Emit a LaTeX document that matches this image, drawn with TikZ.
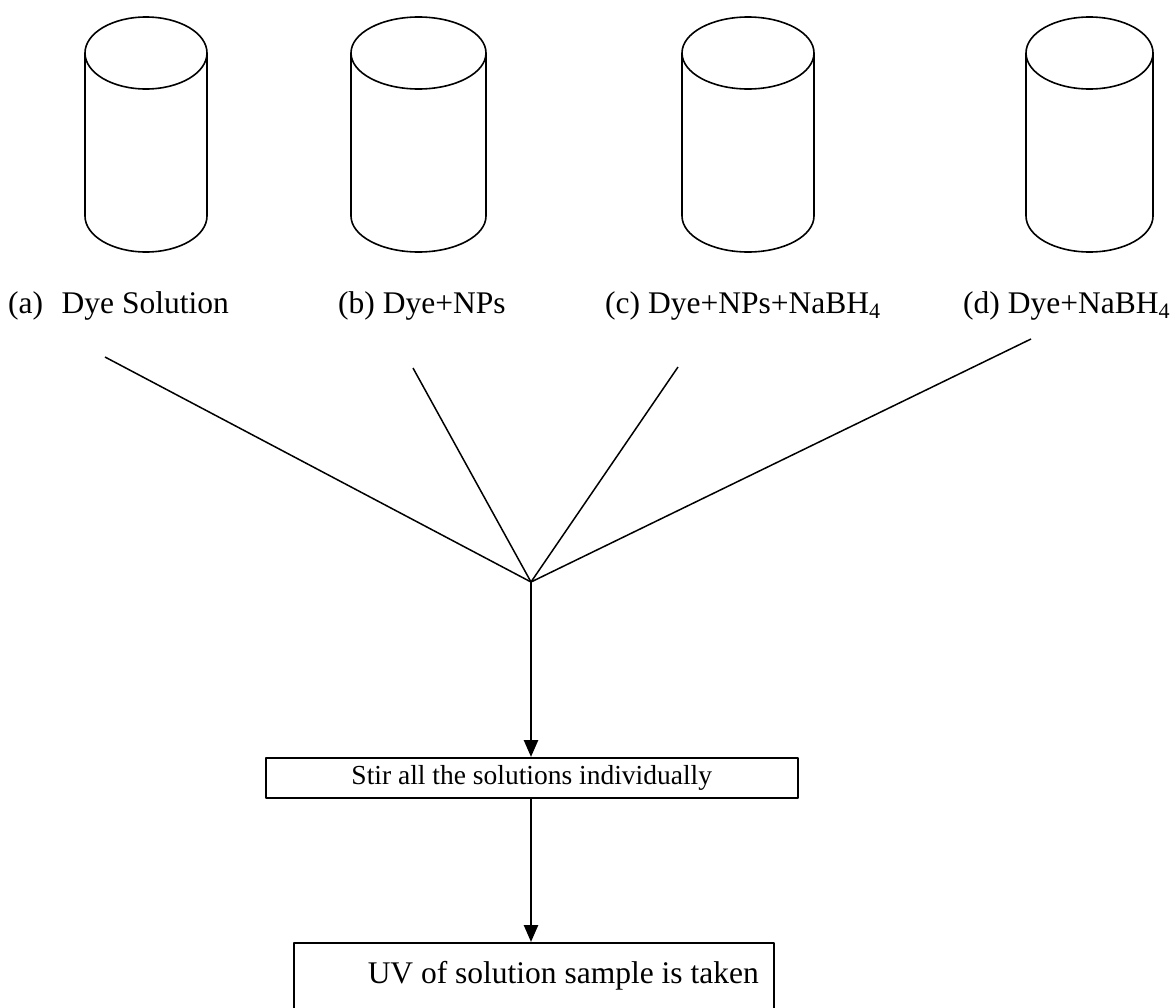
\documentclass[tikz,border=0pt]{standalone}
\usepackage{fontspec}
\setmainfont{Liberation Serif}
\usetikzlibrary{arrows.meta}
\newcommand\mycyl[5]{% name, cx, rx, top y, bottom y
  \draw[cyl] (#2,#4) ellipse [x radius=#3, y radius=36];
  \draw[cyl] (#2-#3,#4) -- (#2-#3,#5) arc[start angle=180,end angle=0,x radius=#3,y radius=36] -- (#2+#3,#4);
  \coordinate (#1) at (#2,#5);
}
\begin{document}
\begin{tikzpicture}[x=1pt,y=-1pt,line join=round,
  cyl/.style={line width=1.6pt},
  lbl/.style={anchor=base west,inner sep=0pt,font=\fontsize{31.5}{36}\selectfont},
  lnk/.style={line width=1.5pt},
  arr/.style={line width=2.6pt,-{Triangle[length=17pt,width=14pt]}},
  procbox/.style={draw,line width=1.5pt,rectangle,inner sep=0pt,anchor=north west,font=\fontsize{31.5}{36}\selectfont}]
\useasboundingbox (0,0) rectangle (1175,1007);
\clip (0,0) rectangle (1175,1007);
\fill[white] (0,0) rectangle (1175,1007);

\mycyl{cA}{146}{61}{53}{216}
\mycyl{cB}{418.5}{67.5}{53}{216}
\mycyl{cC}{748}{66}{53}{216}
\mycyl{cD}{1089.5}{63.5}{53}{216}

\node[lbl] (ta) at (8,313) {(a)\hspace{18.5pt}Dye Solution};
\node[lbl] (tb) at (338,313) {(b) Dye+NPs};
\node[lbl] (tc) at (605,313) {(c) Dye+NPs+NaBH\textsubscript{4}};
\node[lbl] (td) at (963,313) {(d) Dye+NaBH\textsubscript{4}};

\coordinate (sa) at (105,357);
\coordinate (sb) at (413,368);
\coordinate (sc) at (678,367);
\coordinate (sd) at (1031,339);
\coordinate (j) at (531,582);
\draw[lnk] (sa) -- (j);
\draw[lnk] (sb) -- (j);
\draw[lnk] (sc) -- (j);
\draw[lnk] (sd) -- (j);

\node[procbox,minimum width=532pt,minimum height=40pt,font=\fontsize{27.5}{32}\selectfont] (stir) at (265,757)
  {Stir all the solutions individually};
\node[procbox,text height=41pt,text depth=47pt] (uv) at (293,942)
  {\hbox to 480pt{\hspace{74pt}UV of solution sample is taken\hfil}};

\draw[arr] (j) -- (j |- stir.north);
\draw[arr] (j |- stir.south) -- (j |- uv.north);
\end{tikzpicture}
\end{document}
